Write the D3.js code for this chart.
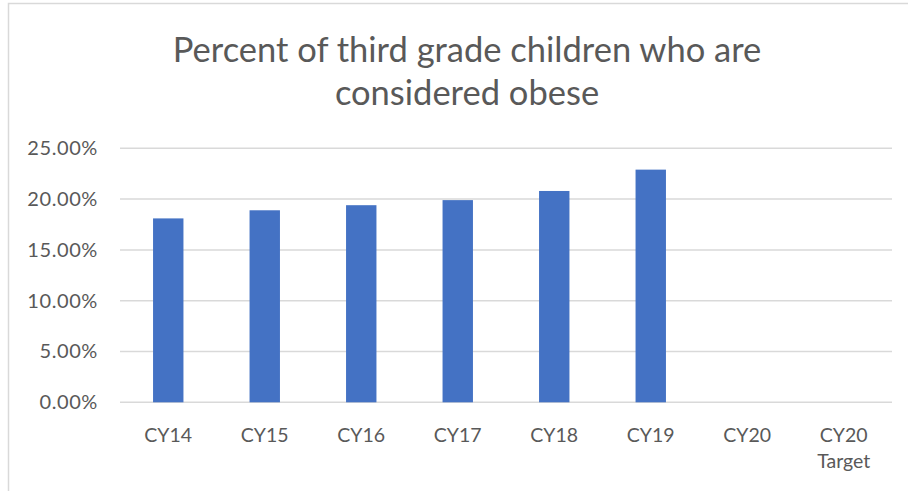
<!DOCTYPE html>
<html>
<head>
<meta charset="utf-8">
<script src="https://cdn.jsdelivr.net/npm/d3@7"></script>
<style>
  html, body { margin: 0; padding: 0; background: #fff; }
  svg { display: block; }
</style>
</head>
<body>
<div id="chart"></div>
<script>
// Data
const categories = ["CY14", "CY15", "CY16", "CY17", "CY18", "CY19", "CY20", "CY20 Target"];
const values = [0.181, 0.189, 0.194, 0.199, 0.208, 0.229, null, null];
const yTicks = [0, 0.05, 0.10, 0.15, 0.20, 0.25];
const titleLines = ["Percent of third grade children who are", "considered obese"];

const width = 908, height = 491;
const plotLeft = 120, plotRight = 892, plotTop = 148.3, plotBottom = 402.3;
const textColor = "#595959";
const gridColor = "#d9d9d9";
const barColor = "#4472c4";
const font = "Lato, 'Open Sans', sans-serif";

const svg = d3.select("#chart").append("svg")
  .attr("width", width)
  .attr("height", height);

// chart area frame (only left and top edges show in the crop)
svg.append("rect")
  .attr("x", 8.5).attr("y", 3.5)
  .attr("width", 1000).attr("height", 1000)
  .attr("fill", "#fff")
  .attr("stroke", gridColor)
  .attr("stroke-width", 1.5);

const x = d3.scaleBand()
  .domain(categories)
  .range([plotLeft, plotRight])
  .paddingInner(0.685)
  .paddingOuter(0.3425);

const y = d3.scaleLinear()
  .domain([0, 0.25])
  .range([plotBottom, plotTop]);

// Title
svg.append("g")
  .attr("font-family", font)
  .attr("font-weight", 400)
  .attr("font-size", 34.5)
  .attr("fill", textColor)
  .attr("text-anchor", "middle")
  .selectAll("text")
  .data(titleLines)
  .join("text")
    .attr("x", 467)
    .attr("y", (d, i) => 61.7 + i * 43.3)
    .text(d => d);

// gridlines
svg.append("g")
  .selectAll("line")
  .data(yTicks)
  .join("line")
    .attr("x1", plotLeft)
    .attr("x2", plotRight)
    .attr("y1", d => y(d))
    .attr("y2", d => y(d))
    .attr("stroke", gridColor)
    .attr("stroke-width", 1.5);

// y axis labels
const yAxis = d3.axisLeft(y)
  .tickValues(yTicks)
  .tickFormat(d3.format(".2%"))
  .tickSize(0)
  .tickPadding(22);

svg.append("g")
  .attr("transform", `translate(${plotLeft},0)`)
  .call(yAxis)
  .call(g => g.select(".domain").remove())
  .call(g => g.selectAll("text")
    .attr("font-family", font)
    .attr("font-size", 20)
    .attr("letter-spacing", 0.6)
    .attr("fill", textColor));

// bars
svg.append("g")
  .selectAll("rect")
  .data(categories.map((c, i) => ({c, v: values[i]})).filter(d => d.v != null))
  .join("rect")
    .attr("x", d => x(d.c))
    .attr("width", x.bandwidth())
    .attr("y", d => y(d.v))
    .attr("height", d => y(0) - y(d.v))
    .attr("fill", barColor);

// x labels (wrapped on space after "CY20")
const xl = svg.append("g")
  .attr("font-family", font)
  .attr("font-size", 19.5)
  .attr("fill", textColor)
  .attr("text-anchor", "middle")
  .selectAll("text")
  .data(categories)
  .join("text")
    .attr("x", d => x(d) + x.bandwidth() / 2)
    .attr("y", 441.7);

xl.each(function(d) {
  const parts = d.split(" ");
  d3.select(this).selectAll("tspan")
    .data(parts)
    .join("tspan")
      .attr("x", x(d) + x.bandwidth() / 2)
      .attr("dy", (p, i) => i === 0 ? 0 : 26)
      .text(p => p);
});
</script>
</body>
</html>
